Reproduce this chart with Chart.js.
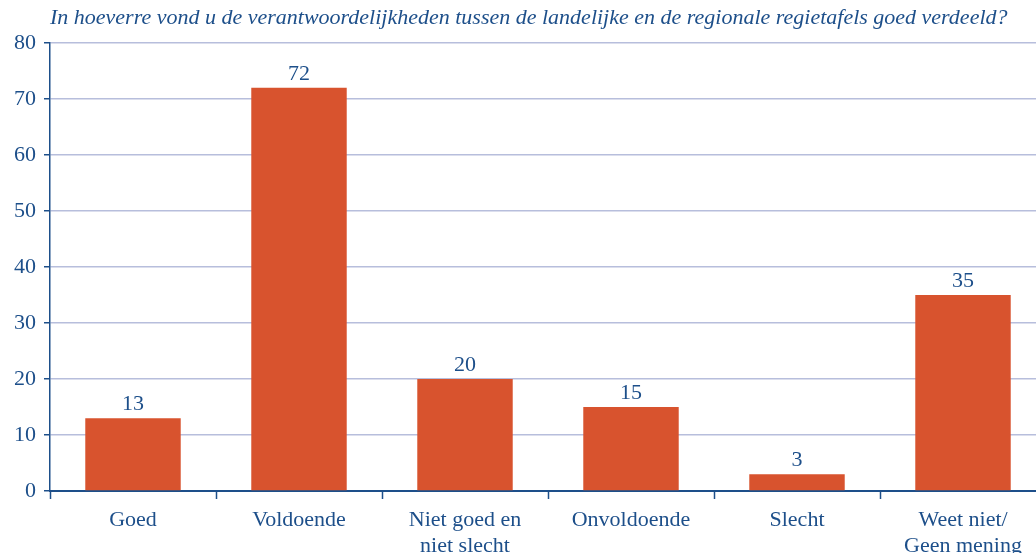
<!DOCTYPE html>
<html>
<head>
<meta charset="utf-8">
<script src="https://cdn.jsdelivr.net/npm/chart.js@4.4.1/dist/chart.umd.min.js"></script>
<style>
  html, body { margin: 0; padding: 0; background: #fff; overflow: hidden; }
  #wrap { width: 1036px; height: 553px; overflow: hidden; }
</style>
</head>
<body>
<div id="wrap"><canvas id="chart" width="1046" height="553"></canvas></div>
<script>
const titleText = "In hoeverre vond u de verantwoordelijkheden tussen de landelijke en de regionale regietafels goed verdeeld?";
const categories = [
    "Goed",
    "Voldoende",
    ["Niet goed en", "niet slecht"],
    "Onvoldoende",
    "Slecht",
    ["Weet niet/", "Geen mening"]
];
const values = [13, 72, 20, 15, 3, 35];
const yTicks = [0, 10, 20, 30, 40, 50, 60, 70, 80];

const navy = "#1d4f8a";
const barColor = "#d8532e";
const gridColor = "#b7bedc";
const fontFamily = "'Liberation Serif', 'DejaVu Serif', serif";

// title drawn at the left edge of the plot area
const titlePlugin = {
    id: "titleLeft",
    afterDraw(chart) {
        const ctx = chart.ctx;
        ctx.save();
        ctx.font = "italic 22px " + fontFamily;
        ctx.fillStyle = navy;
        ctx.textAlign = "left";
        ctx.textBaseline = "middle";
        ctx.fillText(titleText, chart.chartArea.left, 18);
        ctx.restore();
    }
};

// value above each bar
const valueLabels = {
    id: "valueLabels",
    afterDatasetsDraw(chart) {
        const ctx = chart.ctx;
        const meta = chart.getDatasetMeta(0);
        ctx.save();
        ctx.font = "22px " + fontFamily;
        ctx.fillStyle = navy;
        ctx.textAlign = "center";
        ctx.textBaseline = "bottom";
        meta.data.forEach((bar, i) => {
            ctx.fillText(values[i], bar.x, bar.y - 3);
        });
        ctx.restore();
    }
};

new Chart(document.getElementById("chart"), {
    type: "bar",
    data: {
        labels: categories,
        datasets: [{
            data: values,
            backgroundColor: barColor,
            borderWidth: 0,
            barPercentage: 0.575,
            categoryPercentage: 1
        }]
    },
    options: {
        responsive: false,
        animation: false,
        layout: { padding: { top: 43, right: 0, left: 0, bottom: 0 } },
        plugins: {
            legend: { display: false },
            tooltip: { enabled: false }
        },
        scales: {
            x: {
                afterFit(scale) { scale.height = 62; },
                grid: {
                    offset: true,
                    drawOnChartArea: false,
                    tickLength: 8,
                    tickColor: navy,
                    tickWidth: 1.5
                },
                border: { color: navy, width: 2 },
                ticks: {
                    color: navy,
                    font: { family: fontFamily, size: 22, lineHeight: 1.15 },
                    padding: 9,
                    maxRotation: 0
                }
            },
            y: {
                min: 0,
                max: 80,
                afterFit(scale) { scale.width = 50; },
                afterBuildTicks(scale) {
                    scale.ticks = yTicks.map(v => ({ value: v }));
                },
                grid: {
                    color: gridColor,
                    lineWidth: 1.5,
                    tickLength: 6,
                    tickColor: navy,
                    tickWidth: 1.5
                },
                border: { color: navy, width: 1.5 },
                ticks: {
                    color: navy,
                    font: { family: fontFamily, size: 22 },
                    padding: 8
                }
            }
        }
    },
    plugins: [titlePlugin, valueLabels]
});
</script>
</body>
</html>
